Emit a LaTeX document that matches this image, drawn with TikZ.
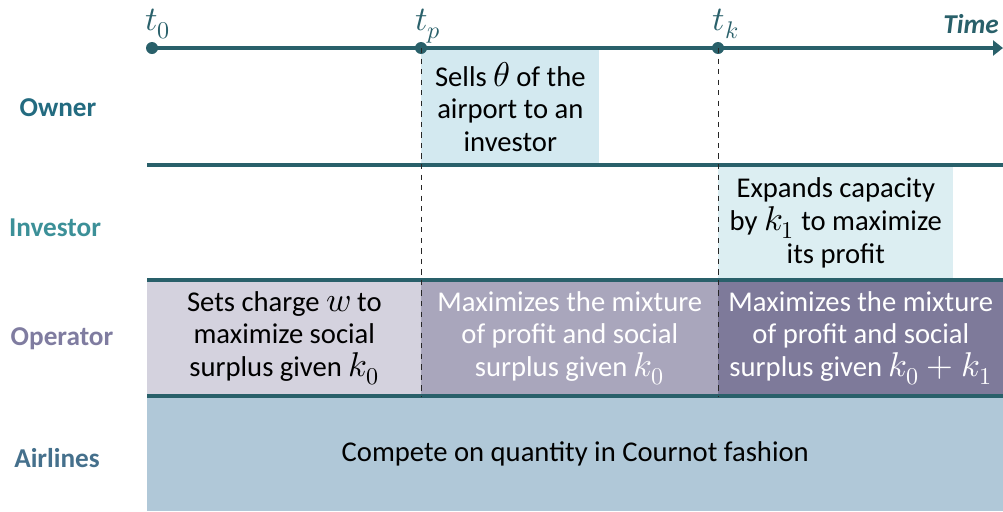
\documentclass[tikz,border=0pt]{standalone}
\usepackage{unicode-math}
\setmainfont{Carlito}
\setmathfont{Latin Modern Math}[Scale=1.2]
\usetikzlibrary{arrows.meta}

\definecolor{axisteal}{HTML}{29606A}
\definecolor{ownerfill}{HTML}{D3E9F0}
\definecolor{investorfill}{HTML}{DCEEF2}
\definecolor{opfillA}{HTML}{D4D2DE}
\definecolor{opfillB}{HTML}{A9A6BC}
\definecolor{opfillC}{HTML}{7E7A9A}
\definecolor{airfill}{HTML}{B0C8D8}
\definecolor{ownertext}{HTML}{236B80}
\definecolor{investortext}{HTML}{3C9098}
\definecolor{optext}{HTML}{7F7CA0}
\definecolor{airtext}{HTML}{45708C}

\begin{document}
\begin{tikzpicture}[x=0.02cm, y=-0.02cm,
    every node/.style={font=\fontsize{16.3}{18.6}\selectfont},
    tdot/.style={circle, fill=axisteal, inner sep=0pt, minimum size=0.24cm},
    sepline/.style={line width=2.3pt, axisteal},
    cell/.style={anchor=north west, inner sep=0pt, align=center, minimum height=2.3cm},
    rowlabel/.style={font=\fontsize{15.5}{18.6}\selectfont\bfseries}]
    \useasboundingbox (0,0) rectangle (1003,511);

        % Phase boxes
        \node[cell, fill=ownerfill, minimum width=3.56cm, minimum height=2.34cm] (sell) at (421,48)
            {Sells $\theta$ of the\\airport to an\\investor};
        \node[cell, fill=investorfill, minimum width=4.7cm] (expand) at (718,165)
            {Expands capacity\\by $k_1$ to maximize\\its profit};
        \node[cell, fill=opfillA, minimum width=5.48cm, minimum height=2.32cm] (opA) at (147,280)
            {Sets charge $w$ to\\maximize social\\surplus given $k_0$};
        \node[cell, fill=opfillB, text=white, minimum width=5.94cm, minimum height=2.32cm] (opB) at (421,280)
            {Maximizes the mixture\\of profit and social\\surplus given $k_0$};
        \node[cell, fill=opfillC, text=white, minimum width=5.7cm, minimum height=2.32cm] (opC) at (718,280)
            {Maximizes the mixture\\of profit and social\\surplus given $k_0+k_1$};
        \node[cell, fill=airfill, minimum width=17.12cm, minimum height=2.3cm] (air) at (147,396)
            {Compete on quantity in Cournot fashion};

        % Row separators
        \draw[sepline] (147,165) -- (1003,165);
        \draw[sepline] (147,280) -- (1003,280);
        \draw[sepline] (147,396) -- (1003,396);

        % Time axis
        \coordinate (tend) at (1003,48);
        \node[tdot] (t0) at (152,48) {};
        \node[tdot] (tp) at (421,48) {};
        \node[tdot] (tk) at (718,48) {};
        \draw[sepline, -{Triangle[length=0.2cm, width=0.3cm]}] (t0.center) -- (tend);
        \node[text=axisteal, anchor=base] (t0lab) at (158,30) {$t_0$};
        \node[text=axisteal, anchor=base] (tplab) at (428,30) {$t_p$};
        \node[text=axisteal, anchor=base] (tklab) at (726,30) {$t_k$};
        \node[text=axisteal, font=\fontsize{15.5}{18.6}\selectfont\bfseries\itshape, anchor=base east] (time) at (1005,33) {Time};

        % Phase boundaries
        \draw[dashed, gray!30!black, thin] (tp.center) -- (tp |- air.north);
        \draw[dashed, gray!30!black, thin] (tk.center) -- (tk |- air.north);

        % Row labels
        \node[rowlabel, text=ownertext] (owner) at (58,108) {Owner};
        \node[rowlabel, text=investortext] (investor) at (55,228) {Investor};
        \node[rowlabel, text=optext] (operator) at (62,339) {Operator};
        \node[rowlabel, text=airtext] (airlines) at (57,458) {Airlines};

    \end{tikzpicture}
\end{document}
